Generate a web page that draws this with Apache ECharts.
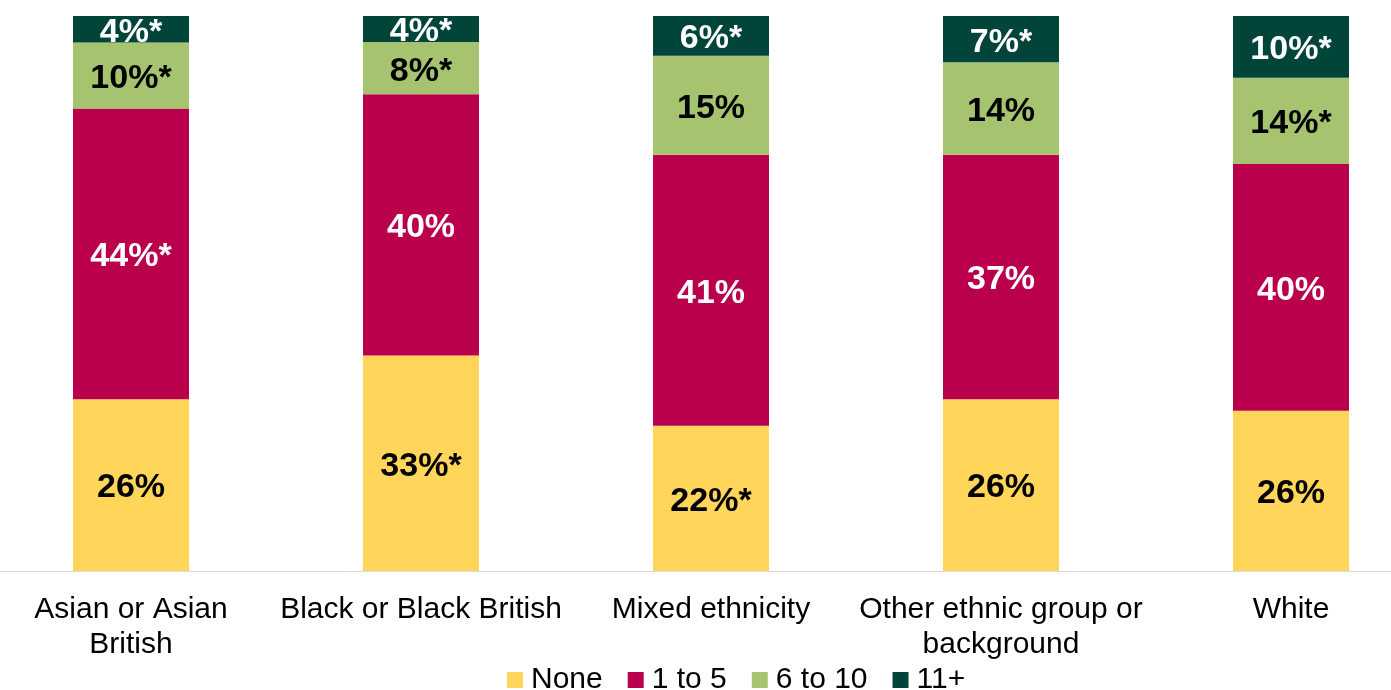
<!DOCTYPE html>
<html>
<head>
<meta charset="utf-8">
<script src="https://cdn.jsdelivr.net/npm/echarts@6/dist/echarts.min.js"></script>
<style>
html,body{margin:0;padding:0;background:#fff;overflow:hidden;width:1391px;height:690px;}
#chart{position:absolute;left:-14px;top:0;width:1450px;height:690px;}
</style>
</head>
<body>
<div id="chart"></div>
<script>
// Categories (line breaks as in the reference)
const categories = ['Asian or Asian\nBritish', 'Black or Black British', 'Mixed ethnicity', 'Other ethnic group or\nbackground', 'White'];
const seriesNames = ['None', '1 to 5', '6 to 10', '11+'];

// Reported percentages (as labelled)
const noneVals   = [26, 33, 22, 26, 26];
const oneToFive  = [44, 40, 41, 37, 40];
const sixToTen   = [10, 8, 15, 14, 14];
const elevenPlus = [4, 4, 6, 7, 10];

// Significance markers (asterisk) per label
const noneStar   = [0, 1, 1, 0, 0];
const oneStar    = [1, 0, 0, 0, 0];
const sixStar    = [1, 1, 0, 0, 1];
const elevenStar = [1, 1, 1, 1, 1];

const colors = ['#FFD55A', '#BA004C', '#A6C470', '#00443A'];
const labelColors = ['#000', '#fff', '#000', '#fff'];

const allVals = [noneVals, oneToFive, sixToTen, elevenPlus];
const allStars = [noneStar, oneStar, sixStar, elevenStar];
const totals = categories.map((_, i) => allVals.reduce((s, arr) => s + arr[i], 0));

const FONT = 'Arial, "Liberation Sans", sans-serif';

const series = seriesNames.map((name, k) => ({
  name: name,
  type: 'bar',
  stack: 'total',
  barWidth: 116,
  itemStyle: { color: colors[k] },
  label: {
    show: true,
    position: 'inside',
    offset: [0, 3],
    color: labelColors[k],
    fontFamily: FONT,
    fontWeight: 'bold',
    fontSize: 34,
    formatter: p => allVals[k][p.dataIndex] + '%' + (allStars[k][p.dataIndex] ? '*' : '')
  },
  emphasis: { disabled: true },
  data: allVals[k].map((v, i) => v / totals[i] * 100)
}));

const chart = echarts.init(document.getElementById('chart'));
chart.setOption({
  animation: false,
  backgroundColor: '#fff',
  color: colors,
  grid: { left: 0, right: 0, top: 16, bottom: 119, containLabel: false },
  xAxis: {
    type: 'category',
    data: categories,
    axisLine: { show: true, lineStyle: { color: '#d9d9d9', width: 1 } },
    axisTick: { show: false },
    axisLabel: {
      interval: 0,
      margin: 21,
      color: '#000',
      fontFamily: FONT,
      fontSize: 30,
      lineHeight: 35
    }
  },
  yAxis: {
    type: 'value',
    min: 0,
    max: 100,
    show: false,
    splitLine: { show: false }
  },
  legend: {
    data: seriesNames,
    left: 521,
    top: 665,
    padding: 0,
    icon: 'rect',
    itemWidth: 16,
    itemHeight: 16,
    itemGap: 25,
    textStyle: { fontFamily: FONT, fontSize: 30, color: '#000', padding: [0, 0, 0, 3] }
  },
  series: series
});
</script>
</body>
</html>
